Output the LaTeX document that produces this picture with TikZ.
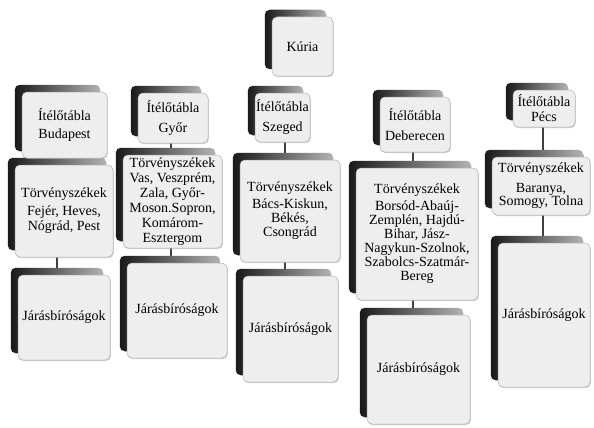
\documentclass[tikz,border=0pt]{standalone}
\usepackage{fontspec}
\setmainfont{Liberation Serif}
\usetikzlibrary{shadows}
\pgfdeclarelayer{backl}
\pgfsetlayers{backl,main}
\begin{document}
\begin{tikzpicture}[x=1pt,y=-1pt,
  front/.style={draw=gray!60, line width=0.5pt, fill=gray!13, rounded corners=5pt,
    align=center, inner sep=0pt, text=black, font=\fontsize{14}{15}\selectfont,
    drop shadow={shadow xshift=0.8pt, shadow yshift=-1.2pt, fill=gray!70, opacity=0.5}},
  back/.style={left color=black!90, right color=gray!60, rounded corners=5pt},
  conn/.style={draw=black!75, line width=1.5pt},
  topconn/.style={draw=gray!60, line width=0.6pt, double=white, double distance=1.4pt}]
\useasboundingbox (0,0) rectangle (594,428);

% level 0
\node[front, minimum width=61, minimum height=59] (K) at (302.5,46.5) {Kúria};
% level 1
\node[front, minimum width=85, minimum height=66] (A1) at (64.5,125) {Ítélőtábla\\[3pt]Budapest};
\node[front, minimum width=70, minimum height=50] (B1) at (173,118) {Ítélőtábla\\[5pt]Győr};
\node[front, minimum width=55, minimum height=49] (C1) at (282.5,117.5) {Ítélőtábla\\[5pt]Szeged};
\node[front, minimum width=70, minimum height=55] (D1) at (415,124.5) {Ítélőtábla\\[5pt]Deberecen};
\node[front, minimum width=62, minimum height=37] (E1) at (544,108.5) {Ítélőtábla\\Pécs};
% level 2
\node[front, minimum width=98, minimum height=92] (A2) at (64,211) {Törvényszékek\\[3pt]Fejér, Heves,\\Nógrád, Pest};
\node[front, minimum width=99, minimum height=93] (B2) at (172.5,201.5) {Törvényszékek\\Vas, Veszprém,\\Zala, Győr-\\Moson.Sopron,\\Komárom-\\Esztergom};
\node[front, minimum width=100, minimum height=102] (C2) at (290,211) {Törvényszékek\\[2pt]Bács-Kiskun,\\[-1pt]Békés,\\[-1pt]Csongrád};
\node[front, minimum width=122, minimum height=132] (D2) at (417,234) {Törvényszékek\\[2pt]Borsód-Abaúj-\\[-1pt]Zemplén, Hajdú-\\[-1pt]Bihar, Jász-\\[-1pt]Nagykun-Szolnok,\\[-1pt]Szabolcs-Szatmár-\\[-1pt]Bereg};
\node[front, minimum width=98, minimum height=58] (E2) at (541,186) {Törvényszékek\\[5pt]Baranya,\\[-2pt]Somogy, Tolna};
% level 3
\node[front, minimum width=92, minimum height=85] (A3) at (64,317.5) {Járásbíróságok};
\node[front, minimum width=100, minimum height=95] (B3) at (177,310.5) {Járásbíróságok};
\node[front, minimum width=95, minimum height=106] (C3) at (290.5,329) {Járásbíróságok};
\node[front, minimum width=103, minimum height=109] (D3) at (418.5,369.5) {Járásbíróságok};
\node[front, minimum width=92, minimum height=144] (E3) at (544,315) {Járásbíróságok};

\coordinate (hub) at (298,81);
\coordinate (ax) at (57,81);
\coordinate (bx) at (171,81);
\coordinate (cx) at (285,81);
\coordinate (dx) at (413,81);
\coordinate (ex) at (543,81);

\begin{pgfonlayer}{backl}
  \fill[white] (0,0) rectangle (594,428);
  \draw[topconn] (hub |- K.center) -- (hub)
    (ax |- A1.center) -- (ax) -- (ex) -- (ex |- E1.center)
    (bx) -- (bx |- B1.center)
    (cx) -- (cx |- C1.center)
    (dx) -- (dx |- D1.center);
  \draw[conn] (ax |- A1.center) -- (ax |- A3.center);
  \draw[conn] (bx |- B1.center) -- (bx |- B3.center);
  \draw[conn] (cx |- C1.center) -- (cx |- C3.center);
  \draw[conn] (dx |- D1.center) -- (dx |- D3.center);
  \draw[conn] (ex |- E1.center) -- (ex |- E3.center);
  \foreach \n in {K,A1,B1,C1,D1,E1,A2,B2,C2,D2,E2,A3,B3,C3,D3,E3}
    \path[back] ([shift={(-7,-7)}]\n.south west) rectangle ([shift={(-7,-7)}]\n.north east);
\end{pgfonlayer}
\end{tikzpicture}
\end{document}
